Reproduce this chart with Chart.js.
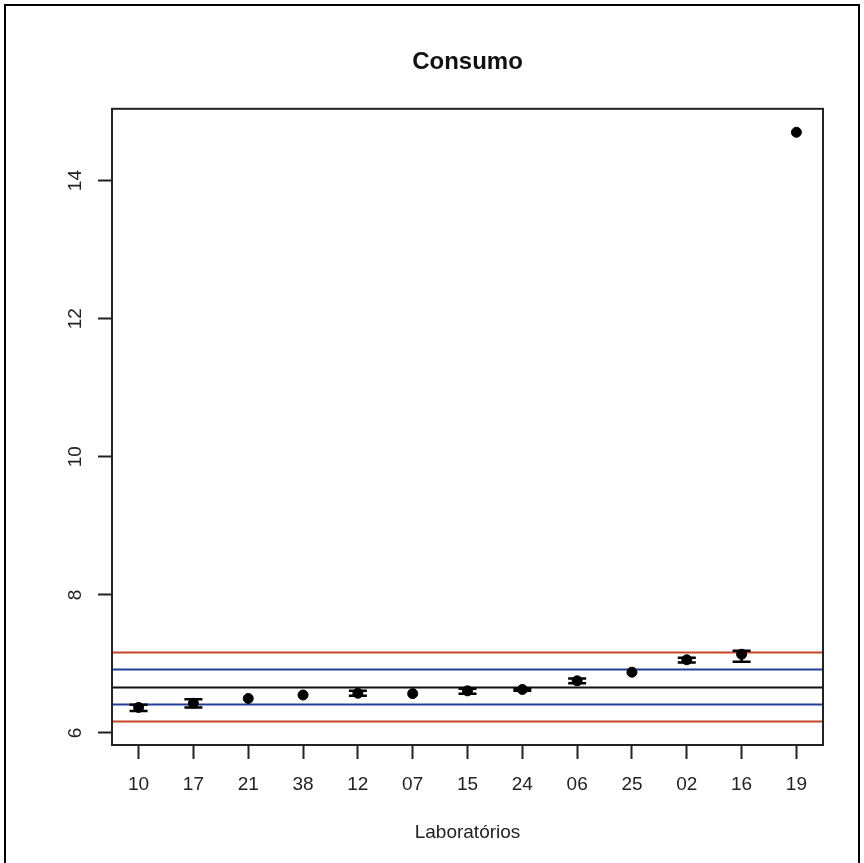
<!DOCTYPE html>
<html>
<head>
<meta charset="utf-8">
<title>Consumo</title>
<script src="https://cdn.jsdelivr.net/npm/chart.js@4.4.1/dist/chart.umd.min.js"></script>
<style>
    html, body { margin: 0; padding: 0; background: #fff; overflow: hidden; }
    #wrap { position: relative; width: 864px; height: 863px; }
    #frame { position: absolute; left: 4px; top: 4px; width: 852px; height: 900px; border: 2px solid #000; pointer-events: none; }
    canvas { position: absolute; left: 0; top: 0; }
</style>
</head>
<body>
<div id="wrap">
    <canvas id="consumo-chart" width="864" height="863"></canvas>
    <div id="frame"></div>
</div>
<script>
// Consumo - resultados por laboratório

const labs = ['10', '17', '21', '38', '12', '07', '15', '24', '06', '25', '02', '16', '19'];
const means = [6.37, 6.43, 6.50, 6.55, 6.575, 6.57, 6.61, 6.63, 6.755, 6.88, 7.06, 7.14, 14.70];
const lower = [6.32, 6.37, null, null, 6.54, null, 6.57, 6.61, 6.72, null, 7.02, 7.03, null];
const upper = [6.41, 6.49, null, null, 6.61, null, 6.64, 6.64, 6.79, null, 7.09, 7.19, null];

// reference lines: mean, +-1 sd, +-2 sd
const refValues = [6.17, 6.42, 6.67, 6.92, 7.17];
const refColors = ['#c8472a', '#233e9a', '#111111', '#233e9a', '#c8472a'];

const yTicks = [6, 8, 10, 12, 14];
const yRange = [5.826, 15.04];
const xRange = [0.515, 13.485];

const FONT = '"Liberation Sans", Arial, sans-serif';

const refLinesPlugin = {
    id: 'refLines',
    beforeDatasetsDraw(chart) {
        const { ctx, chartArea, scales } = chart;
        ctx.save();
        ctx.lineWidth = 2;
        refValues.forEach((v, i) => {
            const y = Math.round(scales.y.getPixelForValue(v)) + 0.5;
            ctx.strokeStyle = refColors[i];
            ctx.beginPath();
            ctx.moveTo(chartArea.left, y);
            ctx.lineTo(chartArea.right, y);
            ctx.stroke();
        });
        ctx.restore();
    },
    afterDatasetsDraw(chart) {
        const { ctx, chartArea, scales } = chart;
        ctx.save();
        // error bars
        ctx.strokeStyle = '#000';
        ctx.lineWidth = 2.5;
        means.forEach((m, i) => {
            if (lower[i] === null) return;
            const x = scales.x.getPixelForValue(i + 1);
            const y0 = scales.y.getPixelForValue(lower[i]);
            const y1 = scales.y.getPixelForValue(upper[i]);
            ctx.beginPath();
            ctx.moveTo(x, y0); ctx.lineTo(x, y1);
            ctx.moveTo(x - 9, y0); ctx.lineTo(x + 9, y0);
            ctx.moveTo(x - 9, y1); ctx.lineTo(x + 9, y1);
            ctx.stroke();
        });
        // plot box
        ctx.lineWidth = 2;
        ctx.strokeStyle = '#222';
        ctx.strokeRect(chartArea.left, chartArea.top, chartArea.right - chartArea.left, chartArea.bottom - chartArea.top);
        ctx.restore();
    }
};

const ctx = document.getElementById('consumo-chart').getContext('2d');

const consumoChart = new Chart(ctx, {
    type: 'scatter',
    data: {
        datasets: [{
            label: 'Consumo',
            data: means.map((m, i) => ({ x: i + 1, y: m })),
            backgroundColor: '#000',
            borderColor: '#000',
            pointRadius: 5,
            pointHoverRadius: 5
        }]
    },
    options: {
        responsive: false,
        devicePixelRatio: 1,
        animation: false,
        layout: {
            padding: { left: 0, right: 41, top: 0, bottom: 0 }
        },
        plugins: {
            legend: { display: false },
            tooltip: { enabled: false },
            title: {
                display: true,
                fullSize: false,
                text: 'Consumo',
                color: '#111',
                font: { family: FONT, size: 24, weight: 'bold' },
                padding: { top: 48, bottom: 32 }
            }
        },
        scales: {
            x: {
                type: 'linear',
                min: xRange[0],
                max: xRange[1],
                afterBuildTicks: scale => {
                    scale.ticks = labs.map((l, i) => ({ value: i + 1 }));
                },
                afterFit: scale => { scale.height = 118; },
                ticks: {
                    autoSkip: false,
                    maxRotation: 0,
                    padding: 14,
                    color: '#222',
                    font: { family: FONT, size: 19 },
                    callback: value => labs[value - 1]
                },
                grid: {
                    drawOnChartArea: false,
                    drawTicks: true,
                    tickLength: 14,
                    tickWidth: 2,
                    tickColor: '#222'
                },
                border: { display: false },
                title: {
                    display: true,
                    text: 'Laboratórios',
                    color: '#222',
                    font: { family: FONT, size: 19 },
                    padding: { top: 0, bottom: 19 }
                }
            },
            y: {
                type: 'linear',
                min: yRange[0],
                max: yRange[1],
                afterBuildTicks: scale => {
                    scale.ticks = yTicks.map(v => ({ value: v }));
                },
                afterFit: scale => { scale.width = 112; },
                ticks: {
                    minRotation: 90,
                    maxRotation: 90,
                    crossAlign: 'center',
                    padding: 12,
                    color: '#222',
                    font: { family: FONT, size: 19 }
                },
                grid: {
                    drawOnChartArea: false,
                    drawTicks: true,
                    tickLength: 14,
                    tickWidth: 2,
                    tickColor: '#222'
                },
                border: { display: false }
            }
        }
    },
    plugins: [refLinesPlugin]
});
</script>
</body>
</html>
